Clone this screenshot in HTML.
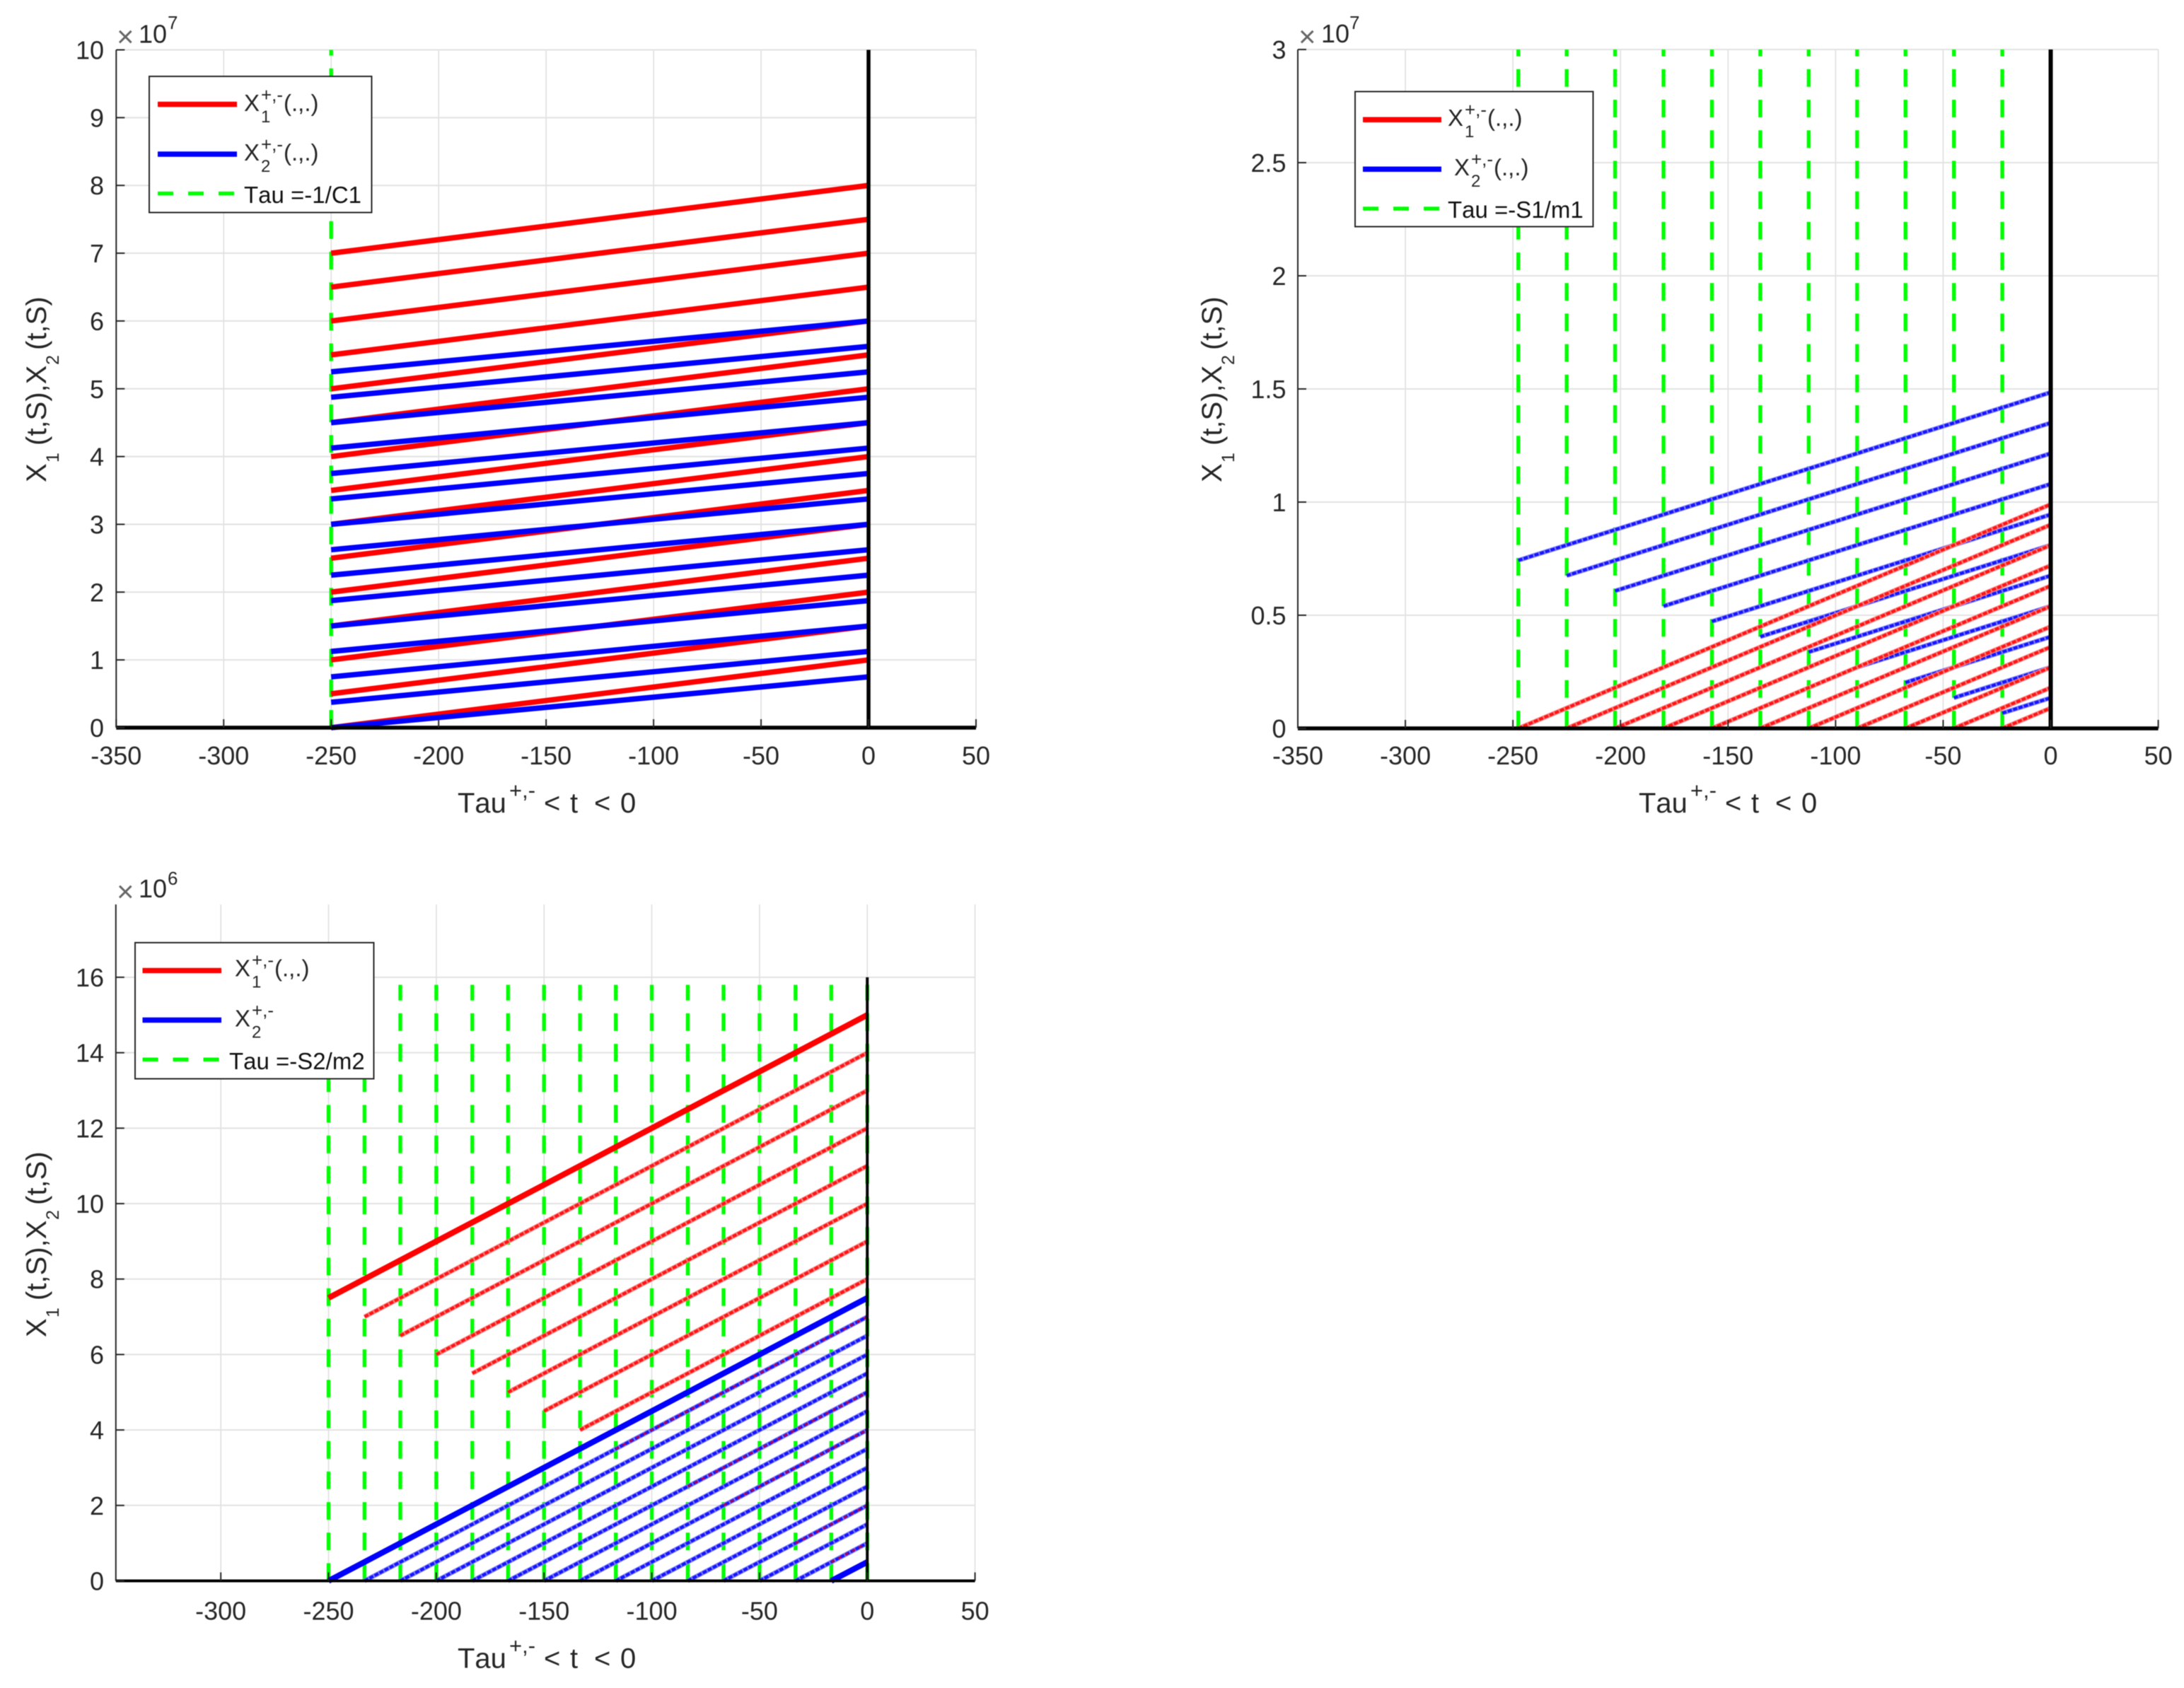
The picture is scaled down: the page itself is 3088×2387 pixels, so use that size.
<!DOCTYPE html>
<html lang="en">
<head>
<meta charset="utf-8">
<title>X1 and X2 against t, three panels</title>
<style>
  html, body { margin: 0; padding: 0; background: #ffffff; }
  svg { display: block; filter: blur(0.6px); }
  text { font-family: "Liberation Sans", sans-serif; fill: #262626; font-kerning: none; }
  .tick { font-size: 36px; }
  .axis-label { font-size: 40px; }
  .legend-text { fill: #111111; }
</style>
</head>
<body>
<svg id="figure" xmlns="http://www.w3.org/2000/svg" width="3088" height="2387" viewBox="0 0 3088 2387">
  <rect x="0" y="0" width="3088" height="2387" fill="#ffffff"/>
  <g id="plot1"></g>
  <g id="plot2"></g>
  <g id="plot3"></g>

  <!-- Panel 1 annotations -->
  <g>
    <text x="165" y="66" font-size="42" style="fill:#666666">×</text>
    <text x="196" y="60.5" font-size="36">10</text>
    <text x="237" y="41" font-size="26">7</text>
  </g>
  <text class="axis-label" y="1149"><tspan x="647">Tau</tspan><tspan x="720" y="1128" font-size="31">+,-</tspan><tspan x="769" y="1149">&lt;</tspan><tspan x="806">t</tspan><tspan x="840">&lt;</tspan><tspan x="877">0</tspan></text>
  <text class="axis-label" transform="translate(65,682) rotate(-90)"><tspan x="0" y="0">X</tspan><tspan x="28" y="18" font-size="25">1</tspan><tspan x="52" y="0">(t,S),X</tspan><tspan x="166" y="18" font-size="25">2</tspan><tspan x="187" y="0">(t,S)</tspan></text>

  <g>
    <rect x="211" y="108" width="314.5" height="192.5" fill="#ffffff" stroke="#262626" stroke-width="2"/>
    <line x1="223" y1="147.5" x2="335" y2="147.5" stroke="#ff0000" stroke-width="7.5"/>
    <line x1="223" y1="218" x2="335" y2="218" stroke="#0000ff" stroke-width="7.5"/>
    <line x1="223" y1="273.6" x2="335" y2="273.6" stroke="#00ff00" stroke-width="5.5" stroke-dasharray="22 21"/>
    <g class="legend-text">
      <text x="345" y="157" font-size="33">X</text><text x="369" y="143" font-size="26">+,-</text><text x="369" y="173" font-size="24">1</text><text x="401" y="157" font-size="33">(.,.)</text>
    </g>
    <g class="legend-text">
      <text x="345" y="227" font-size="33">X</text><text x="369" y="213" font-size="26">+,-</text><text x="369" y="243" font-size="24">2</text><text x="401" y="227" font-size="33">(.,.)</text>
    </g>
    <text class="legend-text" x="345" y="287" font-size="33">Tau =-1/C1</text>
  </g>

  <!-- Panel 2 annotations -->
  <g>
    <text x="1836" y="66" font-size="42" style="fill:#666666">×</text>
    <text x="1868" y="60" font-size="36">10</text>
    <text x="1908" y="41" font-size="26">7</text>
  </g>
  <text class="axis-label" y="1149" transform="translate(1670,0)"><tspan x="647">Tau</tspan><tspan x="720" y="1128" font-size="31">+,-</tspan><tspan x="769" y="1149">&lt;</tspan><tspan x="806">t</tspan><tspan x="840">&lt;</tspan><tspan x="877">0</tspan></text>
  <text class="axis-label" transform="translate(1727,682) rotate(-90)"><tspan x="0" y="0">X</tspan><tspan x="28" y="18" font-size="25">1</tspan><tspan x="52" y="0">(t,S),X</tspan><tspan x="166" y="18" font-size="25">2</tspan><tspan x="187" y="0">(t,S)</tspan></text>

  <g>
    <rect x="1916" y="129.5" width="336.5" height="191" fill="#ffffff" stroke="#262626" stroke-width="2"/>
    <line x1="1927" y1="169.3" x2="2038" y2="169.3" stroke="#ff0000" stroke-width="7.5"/>
    <line x1="1927" y1="239.3" x2="2038" y2="239.3" stroke="#0000ff" stroke-width="7.5"/>
    <line x1="1927" y1="295" x2="2038" y2="295" stroke="#00ff00" stroke-width="5.5" stroke-dasharray="22 21"/>
    <g class="legend-text">
      <text x="2047" y="178" font-size="33">X</text><text x="2071" y="164" font-size="26">+,-</text><text x="2071" y="194" font-size="24">1</text><text x="2103" y="178" font-size="33">(.,.)</text>
    </g>
    <g class="legend-text">
      <text x="2056" y="248" font-size="33">X</text><text x="2080" y="234" font-size="26">+,-</text><text x="2080" y="264" font-size="24">2</text><text x="2112" y="248" font-size="33">(.,.)</text>
    </g>
    <text class="legend-text" x="2047" y="308" font-size="33">Tau =-S1/m1</text>
  </g>

  <!-- Panel 3 annotations -->
  <g>
    <text x="165" y="1275" font-size="42" style="fill:#666666">×</text>
    <text x="196" y="1269" font-size="36">10</text>
    <text x="237" y="1251" font-size="26">6</text>
  </g>
  <text class="axis-label" y="2358.5"><tspan x="647">Tau</tspan><tspan x="720" y="2337.5" font-size="31">+,-</tspan><tspan x="769" y="2358.5">&lt;</tspan><tspan x="806">t</tspan><tspan x="840">&lt;</tspan><tspan x="877">0</tspan></text>
  <text class="axis-label" transform="translate(65,1891) rotate(-90)"><tspan x="0" y="0">X</tspan><tspan x="28" y="18" font-size="25">1</tspan><tspan x="52" y="0">(t,S),X</tspan><tspan x="166" y="18" font-size="25">2</tspan><tspan x="187" y="0">(t,S)</tspan></text>

  <g>
    <rect x="191" y="1333" width="337.5" height="192.5" fill="#ffffff" stroke="#262626" stroke-width="2"/>
    <line x1="201.5" y1="1372.5" x2="313" y2="1372.5" stroke="#ff0000" stroke-width="7.5"/>
    <line x1="201.5" y1="1442.5" x2="313" y2="1442.5" stroke="#0000ff" stroke-width="7.5"/>
    <line x1="201.5" y1="1498.2" x2="313" y2="1498.2" stroke="#00ff00" stroke-width="5.5" stroke-dasharray="22 21"/>
    <g class="legend-text">
      <text x="332" y="1380.7" font-size="33">X</text><text x="356" y="1366.7" font-size="26">+,-</text><text x="356" y="1396.7" font-size="24">1</text><text x="388" y="1380.7" font-size="33">(.,.)</text>
    </g>
    <g class="legend-text">
      <text x="332" y="1451.4" font-size="33">X</text><text x="356" y="1437.4" font-size="26">+,-</text><text x="356" y="1467.4" font-size="24">2</text>
    </g>
    <text class="legend-text" x="324" y="1511.8" font-size="33">Tau =-S2/m2</text>
  </g>
</svg>

<script>
// ---------- Panel 1 data (y values in units of 1e7) ----------
const plot1XTicks = [-350, -300, -250, -200, -150, -100, -50, 0, 50];
const plot1YTicks = [0, 1, 2, 3, 4, 5, 6, 7, 8, 9, 10];
const plot1YTickLabels = ['0', '1', '2', '3', '4', '5', '6', '7', '8', '9', '10'];
const plot1Tau = [-250];
const plot1RedStartTime = [-250, -250, -250, -250, -250, -250, -250, -250, -250, -250, -250, -250, -250, -250, -250];
const plot1RedStart = [7, 6.5, 6, 5.5, 5, 4.5, 4, 3.5, 3, 2.5, 2, 1.5, 1, 0.5, 0];
const plot1RedEnd = [8, 7.5, 7, 6.5, 6, 5.5, 5, 4.5, 4, 3.5, 3, 2.5, 2, 1.5, 1];
const plot1BlueStartTime = [-250, -250, -250, -250, -250, -250, -250, -250, -250, -250, -250, -250, -250, -250, -250];
const plot1BlueStart = [5.25, 4.875, 4.5, 4.125, 3.75, 3.375, 3, 2.625, 2.25, 1.875, 1.5, 1.125, 0.75, 0.375, 0];
const plot1BlueEnd = [6, 5.625, 5.25, 4.875, 4.5, 4.125, 3.75, 3.375, 3, 2.625, 2.25, 1.875, 1.5, 1.125, 0.75];

// ---------- Panel 2 data (y values in units of 1e7) ----------
const plot2XTicks = [-350, -300, -250, -200, -150, -100, -50, 0, 50];
const plot2YTicks = [0, 0.5, 1, 1.5, 2, 2.5, 3];
const plot2YTickLabels = ['0', '0.5', '1', '1.5', '2', '2.5', '3'];
const plot2Tau = [-247.5, -225, -202.5, -180, -157.5, -135, -112.5, -90, -67.5, -45, -22.5];
const plot2BlueStartTime = [-247.5, -225, -202.5, -180, -157.5, -135, -112.5, -90, -67.5, -45, -22.5];
const plot2BlueStart = [0.7425, 0.675, 0.6075, 0.54, 0.4725, 0.405, 0.3375, 0.27, 0.2025, 0.135, 0.0675];
const plot2BlueEnd = [1.485, 1.35, 1.215, 1.08, 0.945, 0.81, 0.675, 0.54, 0.405, 0.27, 0.135];
const plot2RedStartTime = [-247.5, -225, -202.5, -180, -157.5, -135, -112.5, -90, -67.5, -45, -22.5];
const plot2RedStart = [0, 0, 0, 0, 0, 0, 0, 0, 0, 0, 0];
const plot2RedEnd = [0.99, 0.9, 0.81, 0.72, 0.63, 0.54, 0.45, 0.36, 0.27, 0.18, 0.09];

// ---------- Panel 3 data (y values in units of 1e6) ----------
const plot3XTicks = [-300, -250, -200, -150, -100, -50, 0, 50];
const plot3YTicks = [0, 2, 4, 6, 8, 10, 12, 14, 16];
const plot3YTickLabels = ['0', '2', '4', '6', '8', '10', '12', '14', '16'];
const plot3Tau = [-250, -233.3, -216.7, -200, -183.3, -166.7, -150, -133.3, -116.7, -100, -83.3, -66.7, -50, -33.3, -16.7, 0];
const plot3RedSolidStartTime = [-250];
const plot3RedSolidStart = [7.5];
const plot3RedSolidEnd = [15];
const plot3RedStartTime = [-233.3, -216.7, -200, -183.3, -166.7, -150, -133.3];
const plot3RedStart = [7, 6.5, 6, 5.5, 5, 4.5, 4];
const plot3RedEnd = [14, 13, 12, 11, 10, 9, 8];
const plot3BlueSolidStartTime = [-250, -16.7];
const plot3BlueSolidStart = [0, 0];
const plot3BlueSolidEnd = [7.5, 0.5];
const plot3BlueStartTime = [-233.3, -216.7, -200, -183.3, -166.7, -150, -133.3, -116.7, -100, -83.3, -66.7, -50, -33.3];
const plot3BlueStart = [0, 0, 0, 0, 0, 0, 0, 0, 0, 0, 0, 0, 0];
const plot3BlueEnd = [7, 6.5, 6, 5.5, 5, 4.5, 4, 3.5, 3, 2.5, 2, 1.5, 1];
const plot3OverlapStartTime = [-116.7, -83.3, -66.7, -33.3, -16.7];
const plot3OverlapStart = [3.5, 2.5, 2, 1, 0.5];
const plot3OverlapEnd = [7, 5, 4, 2, 1];

const SVG_NS = 'http://www.w3.org/2000/svg';

function makeAxes(frame) {
  return {
    x: function (v) { return frame.left + (v - frame.xMin) * (frame.right - frame.left) / (frame.xMax - frame.xMin); },
    y: function (v) { return frame.bottom - (v - frame.yMin) * (frame.bottom - frame.top) / (frame.yMax - frame.yMin); }
  };
}

function addLine(parent, name, x1, y1, x2, y2, stroke, width, dash) {
  const el = document.createElementNS(SVG_NS, 'line');
  
  
  el.setAttribute('x1', x1);
  el.setAttribute('y1', y1);
  el.setAttribute('x2', x2);
  el.setAttribute('y2', y2);
  el.setAttribute('stroke', stroke);
  el.setAttribute('stroke-width', width);
  if (dash) el.setAttribute('stroke-dasharray', dash);
  parent.appendChild(el);
  return el;
}

function addTickLabel(parent, name, x, y, anchor, label) {
  const el = document.createElementNS(SVG_NS, 'text');
  
  
  el.setAttribute('class', 'tick');
  el.setAttribute('x', x);
  el.setAttribute('y', y);
  el.setAttribute('text-anchor', anchor);
  el.textContent = label;
  parent.appendChild(el);
}

function drawGrid(parent, frame, axes, xTicks, yTicks) {
  xTicks.forEach(function (t) {
    addLine(parent, 'vertical-gridline', axes.x(t), frame.top, axes.x(t), frame.bottom, '#dddddd', 1.5);
  });
  yTicks.forEach(function (v) {
    addLine(parent, 'horizontal-gridline', frame.left, axes.y(v), frame.right, axes.y(v), '#e2e2e2', 2);
  });
}

function drawTau(parent, frame, axes, taus, topValue) {
  taus.forEach(function (t) {
    addLine(parent, 'tau-dashed-line', axes.x(t), frame.bottom, axes.x(t), axes.y(topValue), '#00ff00', 5.4, '25 18.2');
  });
}

function drawSolid(parent, axes, name, color, width, startTime, startVals, endVals) {
  startVals.forEach(function (s, i) {
    addLine(parent, name, axes.x(startTime[i]), axes.y(s), axes.x(0), axes.y(endVals[i]), color, width);
  });
}

function drawMottled(parent, axes, name, halo, core, startTime, startVals, endVals) {
  startVals.forEach(function (s, i) {
    const x1 = axes.x(startTime[i]), y1 = axes.y(s), x2 = axes.x(0), y2 = axes.y(endVals[i]);
    addLine(parent, name + '-halo', x1, y1, x2, y2, halo, 6.4);
    addLine(parent, name, x1, y1, x2, y2, core, 4.2, '6 2');
  });
}

function drawAxes(parent, frame, axes, xTicks, yTicks, yLabels, zeroTop, baseWidth, zeroWidth, yLabelX, xLabelY) {
  addLine(parent, 'zero-time-line', axes.x(0), frame.bottom, axes.x(0), axes.y(zeroTop), '#000000', zeroWidth);
  addLine(parent, 'y-axis-line', frame.left, frame.top, frame.left, frame.bottom, '#262626', 2);
  addLine(parent, 'x-axis-line', frame.left, frame.bottom, frame.right, frame.bottom, '#000000', baseWidth);
  xTicks.forEach(function (t) {
    addLine(parent, 'x-tick-mark', axes.x(t), frame.bottom, axes.x(t), frame.bottom - 12, '#262626', 2);
    addTickLabel(parent, 'x-tick-label', axes.x(t), xLabelY, 'middle', String(t));
  });
  yTicks.forEach(function (v, i) {
    addLine(parent, 'y-tick-mark', frame.left, axes.y(v), frame.left + 12, axes.y(v), '#262626', 2);
    addTickLabel(parent, 'y-tick-label', yLabelX, axes.y(v) + 13, 'end', yLabels[i]);
  });
}

// Panel 1
const frame1 = { left: 164.3, right: 1380, top: 70.5, bottom: 1029, xMin: -350, xMax: 50, yMin: 0, yMax: 10 };
const axes1 = makeAxes(frame1);
const g1 = document.getElementById('plot1');
drawGrid(g1, frame1, axes1, plot1XTicks, plot1YTicks);
drawTau(g1, frame1, axes1, plot1Tau, 10);
drawSolid(g1, axes1, 'x1-line', '#ff0000', 7.6, plot1RedStartTime, plot1RedStart, plot1RedEnd);
drawSolid(g1, axes1, 'x2-line', '#0000ff', 7.6, plot1BlueStartTime, plot1BlueStart, plot1BlueEnd);
drawAxes(g1, frame1, axes1, plot1XTicks, plot1YTicks, plot1YTickLabels, 10, 5.5, 5.5, 147, 1081);

// Panel 2
const frame2 = { left: 1835, right: 3051.6, top: 70, bottom: 1030, xMin: -350, xMax: 50, yMin: 0, yMax: 3 };
const axes2 = makeAxes(frame2);
const g2 = document.getElementById('plot2');
drawGrid(g2, frame2, axes2, plot2XTicks, plot2YTicks);
drawTau(g2, frame2, axes2, plot2Tau, 3);
drawMottled(g2, axes2, 'x2-line', '#7f7fff', '#1414ff', plot2BlueStartTime, plot2BlueStart, plot2BlueEnd);
drawMottled(g2, axes2, 'x1-line', '#ff8080', '#ff1414', plot2RedStartTime, plot2RedStart, plot2RedEnd);
drawAxes(g2, frame2, axes2, plot2XTicks, plot2YTicks, plot2YTickLabels, 3, 5.5, 6, 1818.5, 1081);

// Panel 3
const frame3 = { left: 163.8, right: 1378.6, top: 1279, bottom: 2235.5, xMin: -348.7, xMax: 50, yMin: 0, yMax: 17.93 };
const axes3 = makeAxes(frame3);
const g3 = document.getElementById('plot3');
drawGrid(g3, frame3, axes3, plot3XTicks, plot3YTicks);
drawTau(g3, frame3, axes3, plot3Tau, 15.8);
drawSolid(g3, axes3, 'x1-solid-line', '#ff0000', 8.2, plot3RedSolidStartTime, plot3RedSolidStart, plot3RedSolidEnd);
drawMottled(g3, axes3, 'x1-line', '#ff8080', '#ff1414', plot3RedStartTime, plot3RedStart, plot3RedEnd);
drawMottled(g3, axes3, 'x2-line', '#7f7fff', '#1414ff', plot3BlueStartTime, plot3BlueStart, plot3BlueEnd);
drawSolid(g3, axes3, 'x2-solid-line', '#0000ff', 8.2, plot3BlueSolidStartTime, plot3BlueSolidStart, plot3BlueSolidEnd);
plot3OverlapStart.forEach(function (s, i) {
  addLine(g3, 'x1-x2-overlap-line', axes3.x(plot3OverlapStartTime[i]), axes3.y(s), axes3.x(0), axes3.y(plot3OverlapEnd[i]), '#b00050', 3, '5 6');
});
drawAxes(g3, frame3, axes3, plot3XTicks, plot3YTicks, plot3YTickLabels, 16, 4, 4, 147, 2290.5);
</script>
</body>
</html>
